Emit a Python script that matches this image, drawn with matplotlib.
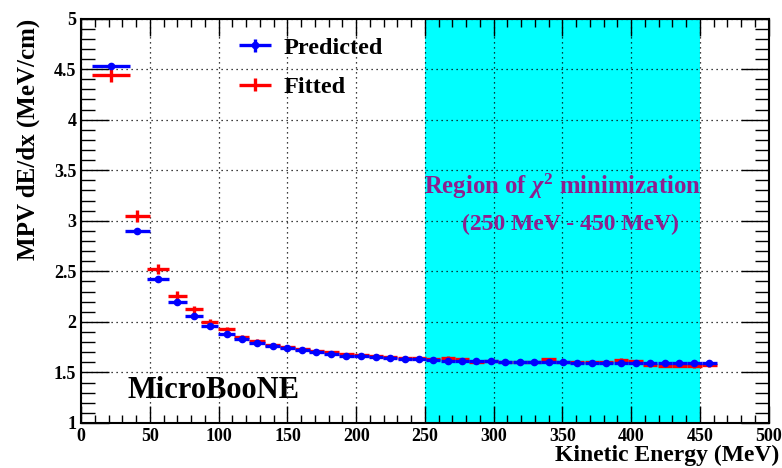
import numpy as np
import matplotlib
matplotlib.use('Agg')
import matplotlib.pyplot as plt
from matplotlib.ticker import MultipleLocator, FuncFormatter
from matplotlib.legend_handler import HandlerErrorbar

plt.rcParams['font.family'] = ['Liberation Serif', 'DejaVu Serif']
plt.rcParams['font.weight'] = 'bold'
plt.rcParams['mathtext.fontset'] = 'custom'
plt.rcParams['mathtext.rm'] = 'Liberation Serif:bold'
plt.rcParams['mathtext.it'] = 'Liberation Serif:italic:bold'
plt.rcParams['mathtext.bf'] = 'Liberation Serif:bold'

# kinetic energy bins (MeV)
ke = [21.6, 40.7, 56.0, 69.8, 82.1, 93.6, 105.7, 116.6, 127.9, 139.1,
      150.0, 160.9, 171.1, 182.0, 192.9, 203.8, 214.2, 224.4, 235.3, 245.4,
      255.9, 266.7, 276.9, 287.4, 297.8, 308.4, 318.9, 329.2, 339.9, 350.4,
      360.8, 371.4, 381.9, 392.8, 403.2, 413.8, 424.7, 435.1, 446.0, 456.9]
ke_err = [13.5, 9.0, 7.9, 7.0, 6.6, 6.2, 5.9, 5.7, 5.6, 5.5,
          5.4, 5.4, 5.3, 5.3, 5.3, 5.3, 5.2, 5.2, 5.2, 5.2,
          5.2, 5.2, 5.2, 5.2, 5.2, 5.2, 5.2, 5.2, 5.2, 5.2,
          5.2, 5.2, 5.2, 5.2, 5.2, 5.2, 5.2, 5.2, 5.2, 5.5]

predicted = [4.532, 2.898, 2.426, 2.195, 2.056, 1.957, 1.885, 1.832, 1.796, 1.762,
             1.737, 1.717, 1.700, 1.687, 1.667, 1.660, 1.653, 1.641, 1.631, 1.628,
             1.624, 1.618, 1.618, 1.611, 1.611, 1.608, 1.604, 1.601, 1.603, 1.601,
             1.598, 1.598, 1.598, 1.594, 1.594, 1.590, 1.590, 1.590, 1.590, 1.590]
predicted_err = [0.02] * 5 + [0.01] * 35

fitted = [4.443, 3.050, 2.519, 2.261, 2.123, 1.994, 1.925, 1.852, 1.812, 1.776,
          1.747, 1.727, 1.710, 1.700, 1.680, 1.670, 1.665, 1.650, 1.640, 1.640,
          1.632, 1.643, 1.630, 1.600, 1.615, 1.605, 1.605, 1.603, 1.630, 1.605,
          1.600, 1.600, 1.605, 1.625, 1.610, 1.571, 1.568, 1.565, 1.560, 1.570]
fitted_err = [0.07, 0.06, 0.05, 0.045, 0.035, 0.03, 0.025, 0.02, 0.02] + [0.015] * 31

fit_lo, fit_hi = 250, 450

fig = plt.figure(figsize=(7.82, 4.68), dpi=100)
ax = fig.add_axes([0.1039, 0.0962, 0.8791, 0.864])

ax.set_xlim(0, 500)
ax.set_ylim(1, 5)

ax.grid(True, which='major', color='black', linestyle=(0, (1, 3)), linewidth=0.9, zorder=0)
ax.axvspan(fit_lo, fit_hi, color='#00ffff', zorder=1, linewidth=0)

ef = ax.errorbar(ke, fitted, xerr=ke_err, yerr=fitted_err, fmt='none', ecolor='red',
                 elinewidth=2.4, zorder=3)
ep = ax.errorbar(ke, predicted, xerr=ke_err, yerr=predicted_err, fmt='o', color='blue',
                 ecolor='blue', markersize=4.5, elinewidth=2.4, zorder=4)

ax.xaxis.set_major_locator(MultipleLocator(50))
ax.xaxis.set_minor_locator(MultipleLocator(10))
ax.yaxis.set_major_locator(MultipleLocator(0.5))
ax.yaxis.set_minor_locator(MultipleLocator(0.1))
ax.tick_params(axis='both', which='both', direction='in', top=True, right=True,
               labelsize=13, width=1)
ax.tick_params(axis='x', which='major', length=12)
ax.tick_params(axis='x', which='minor', length=6)
ax.tick_params(axis='y', which='major', length=20)
ax.tick_params(axis='y', which='minor', length=10)
ax.yaxis.set_major_formatter(FuncFormatter(lambda v, p: f'{v:g}'))
for lab in ax.get_xticklabels() + ax.get_yticklabels():
    lab.set_fontweight('bold')
for s in ax.spines.values():
    s.set_linewidth(1.5)
    s.set_zorder(6)

ax.set_xlabel('Kinetic Energy (MeV)', fontsize=17, fontweight='bold', loc='right', labelpad=0)
ax.xaxis.label.set_x(1.016)
ax.set_ylabel('MPV dE/dx (MeV/cm)', fontsize=18, fontweight='bold', loc='top', labelpad=10)

ax.legend(handles=[ep, ef], labels=['Predicted', 'Fitted'], loc='upper left',
          bbox_to_anchor=(0.2295, 0.955), frameon=False, fontsize=17.5,
          borderpad=0, borderaxespad=0,
          handlelength=1.3, handletextpad=0.55, labelspacing=0.72,
          handler_map={type(ep): HandlerErrorbar(xerr_size=0.65, yerr_size=0.27)})

ax.text(34, 1.32, 'MicroBooNE', fontsize=22, fontweight='bold', va='center', ha='left', zorder=7)
ax.text(350, 3.34, r'Region of $\chi^{2}$ minimization', fontsize=17.8, fontweight='bold',
        color='#8e1f8e', ha='center', va='center', zorder=7)
ax.text(355.5, 2.967, '(250 MeV - 450 MeV)', fontsize=17, fontweight='bold',
        color='#8e1f8e', ha='center', va='center', zorder=7)

plt.savefig('out.png', dpi=100)
